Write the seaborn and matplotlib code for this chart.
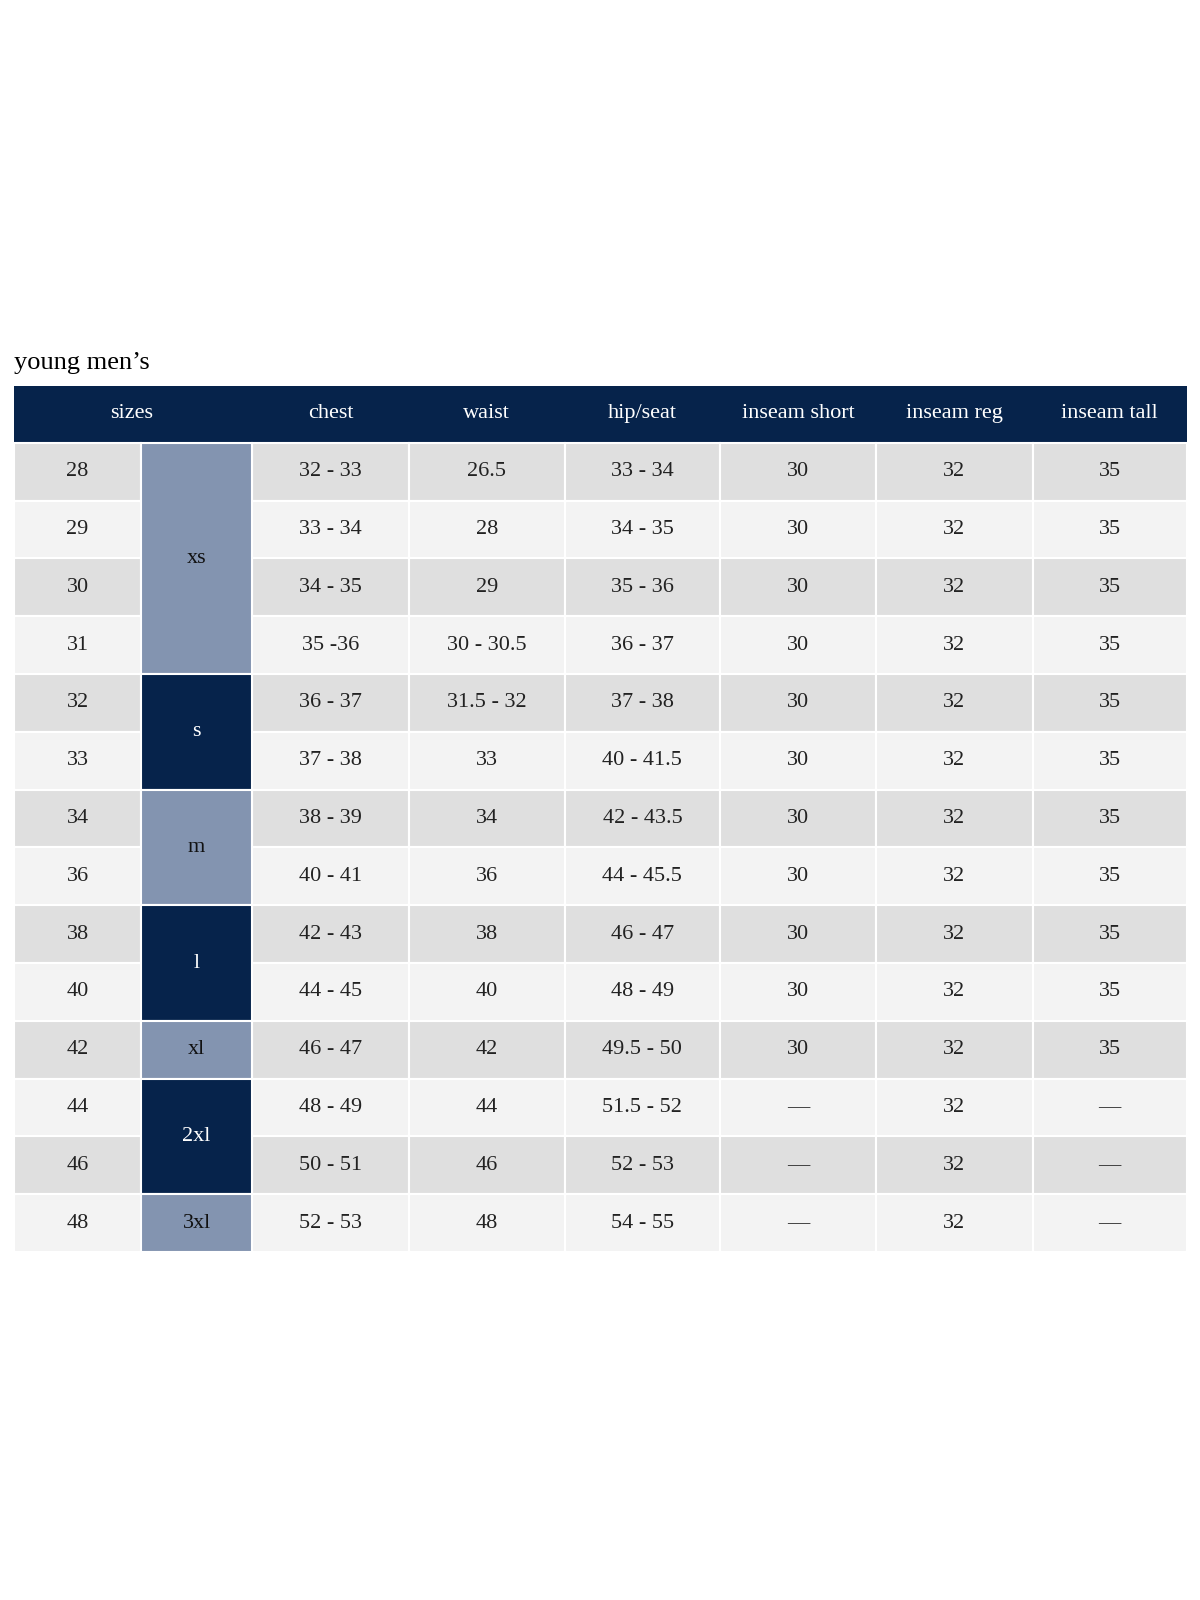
import matplotlib
matplotlib.use("Agg")
import matplotlib.pyplot as plt
import seaborn as sns
from matplotlib.patches import Rectangle

sns.set_theme(style="white")
plt.rcParams['font.family'] = ['Liberation Serif', 'DejaVu Serif']

title = "young men’s"
headers = ["sizes", "chest", "waist", "hip/seat", "inseam short", "inseam reg", "inseam tall"]
sizes = ["28", "29", "30", "31", "32", "33", "34", "36", "38", "40", "42", "44", "46", "48"]
letter_groups = [("xs", 0, 4), ("s", 4, 2), ("m", 6, 2), ("l", 8, 2), ("xl", 10, 1), ("2xl", 11, 2), ("3xl", 13, 1)]
chest = ["32 - 33", "33 - 34", "34 - 35", "35 -36", "36 - 37", "37 - 38", "38 - 39", "40 - 41",
         "42 - 43", "44 - 45", "46 - 47", "48 - 49", "50 - 51", "52 - 53"]
waist = ["26.5", "28", "29", "30 - 30.5", "31.5 - 32", "33", "34", "36", "38", "40", "42", "44", "46", "48"]
hip = ["33 - 34", "34 - 35", "35 - 36", "36 - 37", "37 - 38", "40 - 41.5", "42 - 43.5", "44 - 45.5",
       "46 - 47", "48 - 49", "49.5 - 50", "51.5 - 52", "52 - 53", "54 - 55"]
inseam_short = ["30"] * 11 + ["—"] * 3
inseam_reg = ["32"] * 14
inseam_tall = ["35"] * 11 + ["—"] * 3

W, H = 1175, 1568
navy = "#06234b"
slate = "#8394b0"
shade = ["#dfdfdf", "#f3f3f3"]

fig = plt.figure(figsize=(12, 16), dpi=100)
ax = fig.add_axes([0, 0, 1, 1])
ax.set_xlim(0, W)
ax.set_ylim(H, 0)
ax.axis("off")

cols = [14, 138, 247, 400, 553, 705, 858, 1011, 1162]
top_h, bot_h = 378, 433
row0 = 434
rh = (1227 - 434) / 14
fs = 16

# header
ax.add_patch(Rectangle((cols[0], top_h), cols[-1] - cols[0], bot_h - top_h, color=navy, lw=0))
hcent = [(cols[0] + cols[2]) / 2 - 2] + [(cols[i] + cols[i + 1]) / 2 for i in range(2, 8)]
for x, t in zip(hcent, headers):
    ax.text(x, (top_h + bot_h) / 2, t, color="white", ha="center", va="center", fontsize=fs)

ax.text(cols[0], 356, title, ha="left", va="center", fontsize=19, color="black")

data_cols = [sizes, None, chest, waist, hip, inseam_short, inseam_reg, inseam_tall]
for r in range(14):
    y = row0 + r * rh
    for c in range(8):
        if c == 1:
            continue
        ax.add_patch(Rectangle((cols[c], y), cols[c + 1] - cols[c], rh,
                               facecolor=shade[r % 2], edgecolor="white", lw=1.5))
        ax.text((cols[c] + cols[c + 1]) / 2, y + rh / 2, data_cols[c][r],
                ha="center", va="center", fontsize=fs, color="#222222")

for i, (lab, start, n) in enumerate(letter_groups):
    y = row0 + start * rh
    col = slate if i % 2 == 0 else navy
    ax.add_patch(Rectangle((cols[1], y), cols[2] - cols[1], n * rh,
                           facecolor=col, edgecolor="white", lw=1.5))
    ax.text((cols[1] + cols[2]) / 2, y + n * rh / 2, lab, ha="center", va="center",
            fontsize=fs, color="white" if col == navy else "#111111")

fig.savefig("out.png", dpi=100, facecolor="white")
